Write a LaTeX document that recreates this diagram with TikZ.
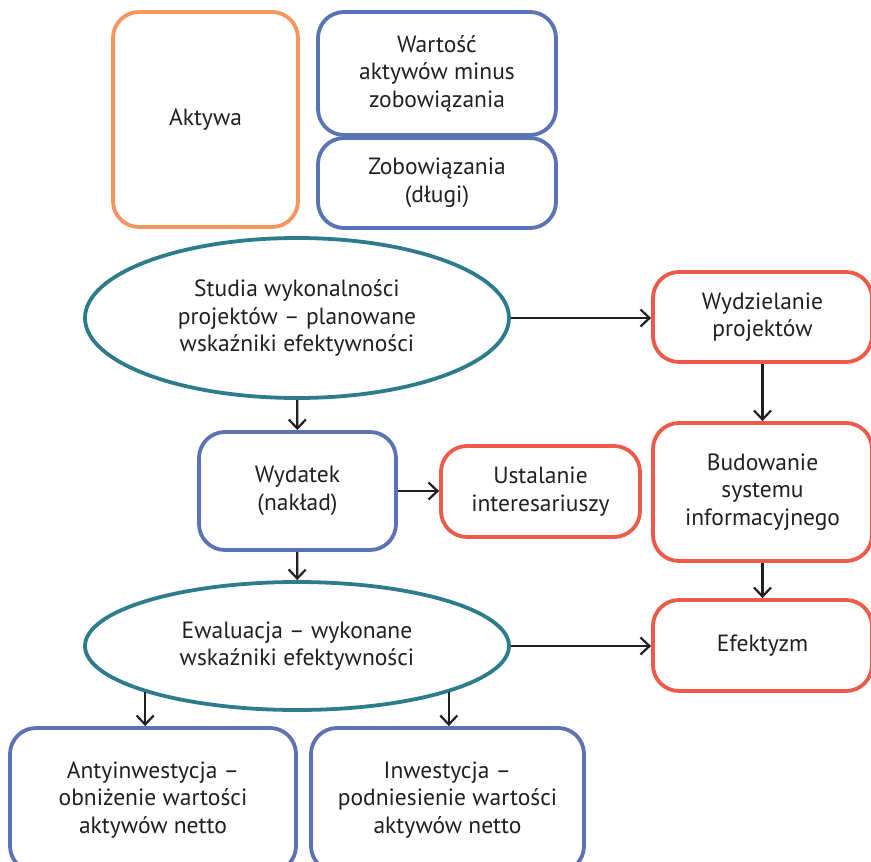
\documentclass[tikz,border=0pt]{standalone}
\usepackage{fontspec}
\setmainfont{PT Sans}
\usetikzlibrary{arrows.meta,shapes.geometric}
\definecolor{BoxOrange}{HTML}{F7955E}
\definecolor{BoxBlue}{HTML}{5A73B3}
\definecolor{BoxRed}{HTML}{EE5A4A}
\definecolor{EllTeal}{HTML}{2C7C8C}
\definecolor{LineDark}{HTML}{231F20}
\tikzset{>={Straight Barb[length=9pt,width=17pt]},
 every node/.style={font=\fontsize{23.5}{27.5}\selectfont,text=LineDark,align=center},
 rbox/.style={draw,line width=3.8pt,rounded corners=26pt,inner sep=0pt},
 oval/.style={ellipse,draw=EllTeal,line width=3.8pt,inner sep=0pt},
 flow/.style={->,draw=LineDark,line width=2.2pt}}
\begin{document}
\begin{tikzpicture}[x=1pt,y=-1pt]
\useasboundingbox[fill=white] (0,0) rectangle (871,862);
% top blocks
\node[rbox,draw=BoxOrange,minimum width=185pt,minimum height=215pt] (aktywa) at (205.5,119.5) {Aktywa};
\node[rbox,draw=BoxBlue,minimum width=238pt,minimum height=123pt] (wartosc) at (437,73.5) {Wartość\\aktywów minus\\zobowiązania};
\node[rbox,draw=BoxBlue,minimum width=238pt,minimum height=90pt] (zobow) at (437,183) {Zobowiązania\\(długi)};
% main flow
\node[oval,minimum width=424pt,minimum height=160pt] (studia) at (297,318) {Studia wykonalności\\projektów -- planowane\\wskaźniki efektywności};
\node[rbox,draw=BoxRed,minimum width=219pt,minimum height=90pt] (wydziel) at (762.5,317) {Wydzielanie\\projektów};
\node[rbox,draw=BoxBlue,minimum width=197pt,minimum height=118pt] (wydatek) at (297.5,491) {Wydatek\\(nakład)};
\node[rbox,draw=BoxRed,minimum width=199pt,minimum height=91pt] (ustal) at (540.5,491.5) {Ustalanie\\interesariuszy};
\node[rbox,draw=BoxRed,minimum width=219pt,minimum height=138pt] (budow) at (762.5,492) {Budowanie\\systemu\\informacyjnego};
\node[oval,minimum width=424pt,minimum height=128pt] (ewal) at (297,646) {Ewaluacja -- wykonane\\wskaźniki efektywności};
\node[rbox,draw=BoxRed,minimum width=219pt,minimum height=91pt] (efekt) at (762.5,645.5) {Efektyzm};
\node[rbox,draw=BoxBlue,minimum width=286pt,minimum height=144pt] (anty) at (153,800) {Antyinwestycja --\\obniżenie wartości\\aktywów netto};
\node[rbox,draw=BoxBlue,minimum width=273pt,minimum height=144pt] (inwest) at (447.5,800) {Inwestycja --\\podniesienie wartości\\aktywów netto};
% arrows
\draw[flow] (studia) -- (studia -| wydziel.west);
\draw[flow] (studia) -- (wydatek);
\draw[flow] (wydatek) -- (wydatek -| ustal.west);
\draw[flow] (wydziel) -- (budow);
\draw[flow] (budow) -- (efekt);
\draw[flow] (wydatek) -- (ewal);
\draw[flow] (ewal) -- (ewal -| efekt.west);
\draw[flow] (ewal.-163) -- (ewal.-163 |- anty.north);
\draw[flow] (ewal.-17) -- (ewal.-17 |- inwest.north);
\end{tikzpicture}
\end{document}
